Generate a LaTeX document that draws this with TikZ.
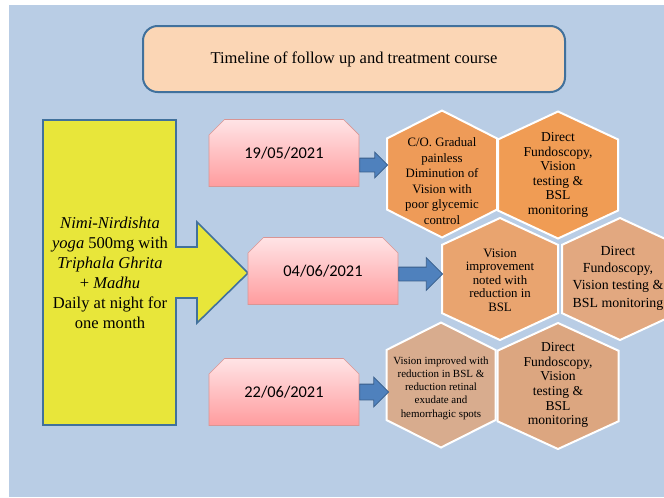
\documentclass[tikz,border=0pt]{standalone}
\usepackage{fontspec}
\setmainfont{Liberation Serif}
\newfontfamily\datefont{Carlito}
\usepackage{tikz}
\usetikzlibrary{arrows.meta,positioning,shapes.misc,shapes.arrows,calc}
\usepackage{xcolor}
\definecolor{bgblue}{RGB}{185,205,229}
\definecolor{titlefill}{RGB}{251,214,181}
\definecolor{edgeblue}{RGB}{65,113,156}
\definecolor{planyellow}{RGB}{232,230,58}
\definecolor{datetop}{RGB}{255,228,230}
\definecolor{datebot}{RGB}{255,156,158}
\definecolor{dateline}{RGB}{217,149,148}
\definecolor{arrowfill}{RGB}{79,129,189}
\definecolor{arrowline}{RGB}{56,93,138}
\definecolor{hexA}{RGB}{238,155,88}
\definecolor{hexB}{RGB}{240,156,84}
\definecolor{hexC}{RGB}{233,164,111}
\definecolor{hexD}{RGB}{226,168,128}
\definecolor{hexE}{RGB}{216,172,142}
\definecolor{hexF}{RGB}{220,166,128}

\begin{document}
\begin{tikzpicture}[x=0.75pt,y=-0.75pt,
  every node/.style={inner sep=0pt,align=center},
  titlebox/.style={draw=edgeblue,line width=1.5pt,fill=titlefill,rounded corners=11pt,
    minimum width=422*\px,minimum height=66*\px,font=\fontsize{12.4}{15}\selectfont},
  datebox/.style={chamfered rectangle,chamfered rectangle corners={north west,north east},
    chamfered rectangle xsep=7pt,chamfered rectangle ysep=7pt,draw=dateline,
    top color=datetop,bottom color=datebot,minimum width=150*\px,minimum height=67*\px,
    font=\datefont\fontsize{12.3}{14}\selectfont},
  blockarr/.style={single arrow,draw=arrowline,fill=arrowfill,anchor=tail,
    inner xsep=0pt,line width=0.6pt},
  hexcell/.style={draw=white,line width=1.5pt}]
  \def\px{0.75pt}
  \useasboundingbox (0,0) rectangle (664,497);
  % Background
  \fill[bgblue] (9,5) rectangle (664,497);
  % Title
  \node[titlebox] (title) at (354,59) {Timeline of follow up and treatment course};
  % Treatment arrow
  \draw[edgeblue,line width=1.2pt,fill=planyellow]
    (43,120) -- (176,120) -- (176,247) -- (197,247) -- (197,222) -- (248,273)
    -- (197,323) -- (197,298) -- (176,298) -- (176,425) -- (43,425) -- cycle;
  \node[font=\fontsize{12.4}{15}\selectfont] (plan) at (110,273)
    {\textit{Nimi-Nirdishta}\\\textit{yoga} 500mg with\\\textit{Triphala Ghrita}\\
     + \textit{Madhu}\\Daily at night for\\one month};
  % Dates
  \node[datebox] (d1) at (284,153) {19/05/2021};
  \node[datebox] (d2) at (323,271) {04/06/2021};
  \node[datebox] (d3) at (284,392) {22/06/2021};
  % Hexagons
  \foreach \nm/\cx/\cy/\w/\h/\col in {hA/442/174/110/127/hexA,hB/558/175/120/127/hexB,
      hC/500/279/116/122/hexC,hD/620/279/116/122/hexD,
      hE/441/385/109/125/hexE,hF/558/386/121/126/hexF}{
    \filldraw[hexcell,fill=\col] (\cx,\cy-\h/2) -- (\cx+\w/2,\cy-0.28*\h)
      -- (\cx+\w/2,\cy+0.28*\h) -- (\cx,\cy+\h/2) -- (\cx-\w/2,\cy+0.28*\h)
      -- (\cx-\w/2,\cy-0.28*\h) -- cycle;
  }
  \node[font=\fontsize{9.6}{11.6}\selectfont] (hA) at (442,181)
    {C/O. Gradual\\painless\\Diminution of\\Vision with\\poor glycemic\\control};
  \node[font=\fontsize{10.2}{10.9}\selectfont] (hB) at (558,175)
    {Direct\\Fundoscopy,\\Vision\\testing \&\\BSL\\monitoring};
  \node[font=\fontsize{9.6}{10.1}\selectfont] (hC) at (500,280)
    {Vision\\improvement\\noted with\\reduction in\\BSL};
  \node[font=\fontsize{10.4}{13}\selectfont] (hD) at (618,278)
    {Direct\\Fundoscopy,\\Vision testing \&\\BSL monitoring};
  \node[font=\fontsize{8.2}{9.9}\selectfont] (hE) at (441,388)
    {Vision improved with\\reduction in BSL \&\\reduction retinal\\exudate and\\hemorrhagic spots};
  \node[font=\fontsize{10.2}{11}\selectfont] (hF) at (558,385)
    {Direct\\Fundoscopy,\\Vision\\testing \&\\BSL\\monitoring};
  % Block arrows
  \node[blockarr,inner ysep=6.5*\px,single arrow head extend=6*\px,minimum height=28*\px]
    (a1) at ($(d1.east)+(0,12)$) {};
  \node[blockarr,inner ysep=6.5*\px,single arrow head extend=9.5*\px,minimum height=44*\px]
    (a2) at ($(d2.east)+(0,3)$) {};
  \node[blockarr,inner ysep=7.5*\px,single arrow head extend=7*\px,minimum height=29*\px]
    (a3) at ($(d3.east)+(0,0)$) {};
\end{tikzpicture}
\end{document}
